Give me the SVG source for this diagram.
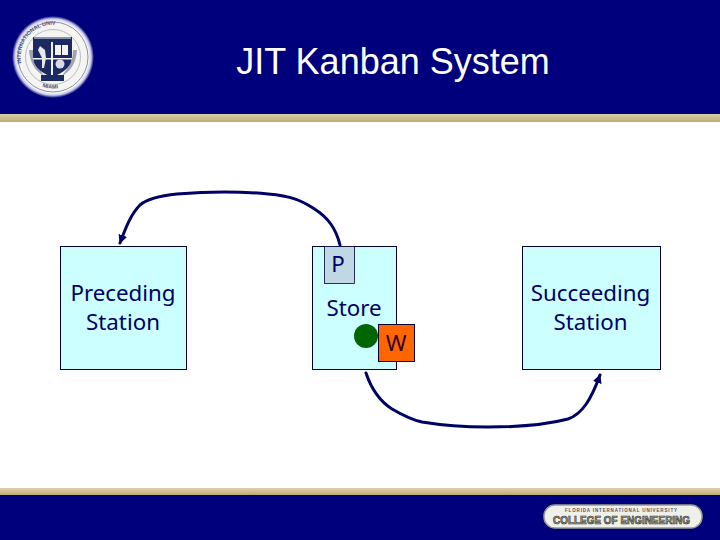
<svg xmlns="http://www.w3.org/2000/svg" width="720" height="540" viewBox="0 0 720 540">
<style>
.box{fill:#ccffff;stroke:#000033;stroke-width:1}
.lbl{font-family:"Noto Sans","DejaVu Sans",sans-serif;font-size:22.300px;fill:#000066;text-anchor:middle}
.conn{fill:none;stroke:#000066;stroke-width:3;stroke-linecap:round}
.seal{font-family:"Liberation Sans",sans-serif;font-weight:bold;font-size:5.500px;fill:#4a5080}
</style>
<defs>
<linearGradient id="tan" x1="0" y1="0" x2="0" y2="1"><stop offset="0" stop-color="#d9cfa8"/><stop offset="0.7" stop-color="#cbb987"/><stop offset="1" stop-color="#b5a67a"/></linearGradient>
<radialGradient id="glow"><stop offset="0.86" stop-color="#ffffff"/><stop offset="0.93" stop-color="#c8cce8"/><stop offset="1" stop-color="#00007c"/></radialGradient>
<marker id="arrow" viewBox="0 0 10 10" refX="9" refY="5" markerWidth="3" markerHeight="3" orient="auto"><path d="M0 0L10 5L0 10Z" fill="#000066"/></marker>
<path id="sealTop" d="M22 66A32 32 0 0 1 84 48"/>
<path id="sealBot" d="M28 76A31 31 0 0 0 78 76"/>
</defs>
<rect width="720" height="540" fill="#ffffff"/>
<rect id="header" width="720" height="114" fill="#00007c"/>
<rect y="114" width="720" height="8" fill="url(#tan)"/>
<rect y="488" width="720" height="7" fill="url(#tan)"/>
<rect id="footer" y="495" width="720" height="45" fill="#00007c"/>

<g id="seal">
<circle cx="53" cy="57" r="41" fill="url(#glow)"/>
<circle cx="53" cy="57" r="35" fill="#f4f4f0" stroke="#8a90a8" stroke-width="1"/>
<circle cx="53" cy="57" r="27.500" fill="none" stroke="#a8acc0" stroke-width="0.8"/>
<text class="seal"><textPath href="#sealTop" startOffset="3">INTERNATIONAL UNIV</textPath></text>
<text class="seal"><textPath href="#sealBot" startOffset="18">MIAMI</textPath></text>
<path d="M29 50Q30 68 44 76L40 70Q33 62 33 50Z" fill="#a0a4b0"/>
<path d="M77 50Q76 68 62 76L66 70Q73 62 73 50Z" fill="#a0a4b0"/>
<path d="M33 37H72V56Q72 70 52 77Q33 70 33 56Z" fill="#1c2a63"/>
<path d="M51 42H53V76H51ZM33 58H72V59.500H33Z" fill="#f2f2f2"/>
<path d="M34 37H71V39H34Z" fill="#8a90b0"/>
<path d="M55 45H68V55H55Z" fill="#f2f2f2"/>
<path d="M61 45H62V55H61Z" fill="#1c2a63"/>
<path d="M40 46L45 50L46 58L44 68L42 68L42 58L38 50Z" fill="#e8e8e8"/>
<circle cx="60" cy="64" r="4.500" fill="#d8dae6"/>
<rect x="41" y="75" width="23" height="6" fill="#1c2a63"/>
</g>

<text id="title" x="393" y="74" text-anchor="middle" font-family="Liberation Sans, Arial, sans-serif" font-size="36px" fill="#ffffff">JIT Kanban System</text>

<g id="connectors">
<path class="conn" marker-end="url(#arrow)" d="M340 245C336 229 329 218 313 208C302 201 292 196 268 194C248 192 212 191 177 194C158 196 147 199 140 205C131 214 126 227 120 243"/>
<path class="conn" marker-end="url(#arrow)" d="M366 373C371 388 378 400 392 409C404 416 412 420 422 422C440 425 465 427 488 427C515 427 545 425 568 419C582 414 591 400 600 375"/>
</g>

<g id="preceding">
<rect class="box" x="60.500" y="246.500" width="126" height="123"/>
<text class="lbl" x="123" y="301">Preceding</text>
<text class="lbl" x="123" y="330">Station</text>
</g>

<g id="store">
<rect class="box" x="312.500" y="246.500" width="84" height="123"/>
<text class="lbl" x="354" y="316">Store</text>
</g>

<g id="p">
<rect x="324.500" y="246.500" width="30" height="37" fill="#c0d8e4" stroke="#000033" stroke-width="0.8"/>
<text class="lbl" x="338" y="272">P</text>
</g>

<g id="dot"><circle cx="366" cy="336" r="12" fill="#006600"/></g>

<g id="w">
<rect x="378.500" y="324.500" width="36" height="37" fill="#ff6600" stroke="#000033" stroke-width="1"/>
<text class="lbl" x="396" y="351" style="fill:#330033">W</text>
</g>

<g id="succeeding">
<rect class="box" x="522.500" y="246.500" width="138" height="123"/>
<text class="lbl" x="590.500" y="301">Succeeding</text>
<text class="lbl" x="590.500" y="330">Station</text>
</g>

<g id="logo">
<rect x="544" y="505" width="158" height="23" rx="11" fill="#f0f0ea" stroke="#9a9a90" stroke-width="1.500"/>
<text x="565" y="512" font-family="Liberation Sans, sans-serif" font-size="4.500px" font-weight="bold" fill="#555555" textLength="112">FLORIDA INTERNATIONAL UNIVERSITY</text>
<text x="553" y="524" font-family="Liberation Sans, sans-serif" font-size="11px" font-weight="bold" fill="#aaaa90" stroke="#222222" stroke-width="0.600" textLength="137" lengthAdjust="spacingAndGlyphs">COLLEGE OF ENGINEERING</text>
</g>
</svg>
